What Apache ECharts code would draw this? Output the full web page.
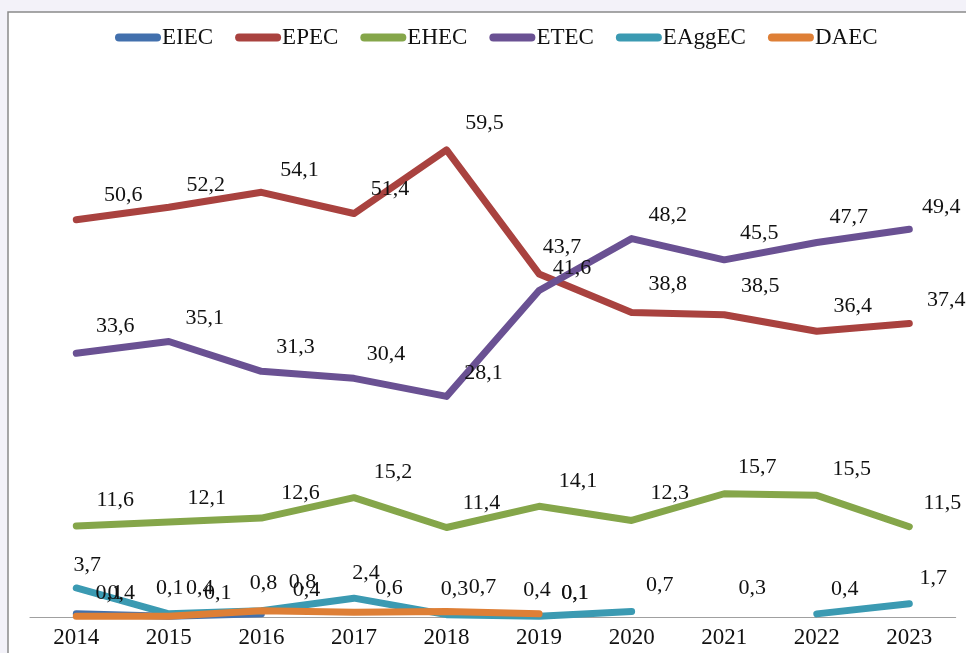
<!DOCTYPE html>
<html>
<head>
<meta charset="utf-8">
<script src="https://cdn.jsdelivr.net/npm/echarts@6/dist/echarts.min.js"></script>
<style>
html,body{margin:0;padding:0;background:#f3f2f9;}
#chart{width:966px;height:653px;}
</style>
</head>
<body>
<div id="chart"></div>
<script>
// ---- data ----
const years = ['2014','2015','2016','2017','2018','2019','2020','2021','2022','2023'];
const seriesNames = ['EIEC','EPEC','EHEC','ETEC','EAggEC','DAEC'];
const EIEC   = [0.4, 0.1, 0.4, null, null, 0.1, null, 0.3, null, null];
const EPEC   = [50.6, 52.2, 54.1, 51.4, 59.5, 43.7, 38.8, 38.5, 36.4, 37.4];
const EHEC   = [11.6, 12.1, 12.6, 15.2, 11.4, 14.1, 12.3, 15.7, 15.5, 11.5];
const ETEC   = [33.6, 35.1, 31.3, 30.4, 28.1, 41.6, 48.2, 45.5, 47.7, 49.4];
const EAggEC = [3.7, 0.4, 0.8, 2.4, 0.3, 0.1, 0.7, null, 0.4, 1.7];
const DAEC   = [0.1, 0.1, 0.8, 0.6, 0.7, 0.4, null, null, null, null];

// ---- styling (kept apart from data) ----
const colors = {
  EIEC: '#4270ad', EPEC: '#a9423f', EHEC: '#85a64a',
  ETEC: '#6a5193', EAggEC: '#3b9ab2', DAEC: '#de7f36'
};
const labelNudge = {
  EIEC:   [[45,-21],[1,-28],[45,-24],[0,0],[0,0],[36,-23],[0,0],[28,-26],[0,0],[0,0]],
  EPEC:   [[47,-25],[37,-22],[38,-22],[36,-24],[38,-27],[23,-27],[36,-28],[36,-29],[36,-25],[37,-23]],
  EHEC:   [[39,-26],[38,-24],[39,-25],[39,-25],[35,-24],[39,-25],[38,-27],[33,-27],[35,-26],[33,-24]],
  ETEC:   [[39,-27],[36,-23],[34,-24],[32,-24],[37,-23],[33,-22],[36,-23],[35,-27],[32,-25],[32,-22]],
  EAggEC: [[11,-23],[31,-26],[2,-28],[12,-25],[8,-25],[36,-23],[28,-26],[0,0],[28,-25],[24,-25]],
  DAEC:   [[33,-23],[49,-23],[41,-29],[35,-24],[36,-24],[-2,-24],[0,0],[0,0],[0,0],[0,0]]
};
const values = { EIEC, EPEC, EHEC, ETEC, EAggEC, DAEC };
const FONT = '"Liberation Serif", "Times New Roman", serif';

function fmt(v) { return v.toFixed(1).replace('.', ','); }

const series = seriesNames.map(name => ({
  name: name,
  type: 'line',
  connectNulls: false,
  symbol: 'circle',
  symbolSize: 0,
  showSymbol: true,
  showAllSymbol: true,
  itemStyle: { color: colors[name] },
  lineStyle: { color: colors[name], width: 7, cap: 'round', join: 'round' },
  emphasis: { disabled: true },
  label: {
    show: true,
    position: 'inside',
    color: '#111',
    fontFamily: FONT,
    fontSize: 22,
    formatter: p => fmt(p.value)
  },
  data: values[name].map((v, i) => ({
    value: v,
    label: { offset: labelNudge[name][i] }
  }))
}));

const chart = echarts.init(document.getElementById('chart'), null, { renderer: 'canvas' });
chart.setOption({
  animation: false,
  backgroundColor: '#f3f2f9',
  color: seriesNames.map(n => colors[n]),
  graphic: [
    { type: 'rect', z: -10, shape: { x: 8, y: 12, width: 980, height: 660 },
      style: { fill: '#ffffff', stroke: '#8a8a8a', lineWidth: 1.5 } }
  ],
  legend: {
    left: 110, top: 21,
    itemWidth: 46, itemHeight: 8, itemGap: 22,
    icon: 'path://M4,0 L42,0 A4,4 0 0 1 42,8 L4,8 A4,4 0 0 1 4,0 Z',
    itemStyle: { opacity: 1 },
    textStyle: { fontFamily: FONT, fontSize: 23, color: '#111', padding: [0,0,0,-4] },
    data: seriesNames
  },
  grid: { left: 30, right: 10.4, top: 67.5, bottom: 36, containLabel: false },
  xAxis: {
    type: 'category',
    data: years,
    boundaryGap: true,
    axisLine: { show: true, lineStyle: { color: '#a0a0a0', width: 1.2 } },
    axisTick: { show: false },
    axisLabel: { fontFamily: FONT, fontSize: 23, color: '#111', margin: 9 },
    splitLine: { show: false }
  },
  yAxis: {
    type: 'value', min: 0, max: 70, interval: 10,
    show: false
  },
  series: series
});
</script>
</body>
</html>
